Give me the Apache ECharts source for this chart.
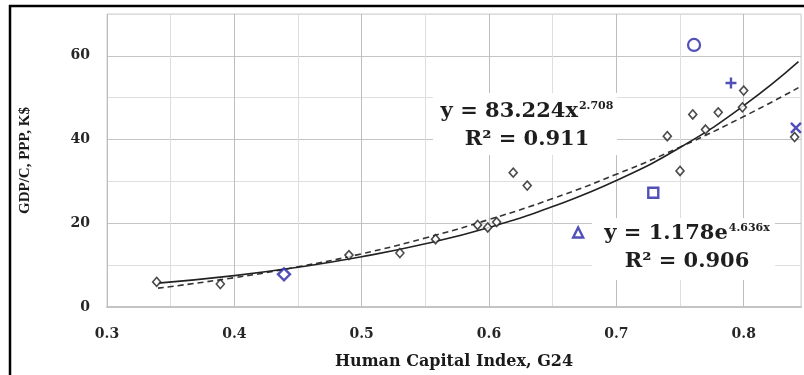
<!DOCTYPE html>
<html>
<head>
<meta charset="utf-8">
<script src="https://cdn.jsdelivr.net/npm/echarts@6/dist/echarts.min.js"></script>
<style>
html,body{margin:0;padding:0;background:#fff;}
#chart{width:804px;height:375px;}
</style>
</head>
<body>
<div id="chart"></div>
<script>
// Black hollow diamonds (country observations)
var pointX = [0.339, 0.389, 0.490, 0.530, 0.558, 0.591, 0.599, 0.606, 0.619, 0.630, 0.740, 0.750, 0.760, 0.770, 0.780, 0.799, 0.800, 0.840];
var pointY = [6.0, 5.5, 12.4, 12.9, 16.2, 19.6, 19.0, 20.3, 32.1, 29.0, 40.8, 32.5, 46.0, 42.4, 46.5, 47.7, 51.7, 40.6];

// Highlighted blue markers
var blueDiamond = [[0.439, 7.8]];
var blueCircle = [[0.761, 62.6]];
var bluePlus = [[0.790, 53.5]];
var blueCross = [[0.841, 42.8]];
var blueSquare = [[0.729, 27.3]];
var blueTriangle = [[0.670, 17.8]];

// Trend lines
var trendX = [0.34, 0.40, 0.45, 0.50, 0.55, 0.60, 0.65, 0.70, 0.75, 0.80, 0.843];
var expTrendY = [5.7, 7.5, 9.5, 12.0, 15.1, 19.0, 24.0, 30.2, 38.1, 48.1, 58.6];
var powTrendY = [4.5, 7.0, 9.6, 12.7, 16.5, 20.9, 25.9, 31.7, 38.2, 45.5, 52.4];

var xTickLabels = ['0.3', '0.4', '0.5', '0.6', '0.7', '0.8'];
var yTickLabels = ['0', '20', '40', '60'];

function zip(xs, ys) { return xs.map(function (x, i) { return [x, ys[i]]; }); }

var SERIF = '"DejaVu Serif", "Liberation Serif", serif';
var BLUE = '#2424a6';

var chart = echarts.init(document.getElementById('chart'), null, {renderer: 'canvas'});

var option = {
  animation: false,
  backgroundColor: '#fff',
  grid: {left: 107, top: 14, right: 3, bottom: 67, show: true, borderColor: '#cfcfcf', borderWidth: 1},
  xAxis: {
    type: 'value', min: 0.3, max: 0.845, interval: 0.05,
    name: 'Human Capital Index, G24', nameLocation: 'middle', nameGap: 47,
    nameTextStyle: {fontFamily: SERIF, fontWeight: 'bold', fontSize: 16, color: '#1a1a1a'},
    axisLine: {show: true, lineStyle: {color: '#c4c4c4', width: 2}},
    axisTick: {show: false},
    splitLine: {show: true, lineStyle: {color: ['#bdbdbd', '#dedede'], width: 1}},
    axisLabel: {
      margin: 20, fontFamily: SERIF, fontWeight: 'bold', fontSize: 14, color: '#262626',
      formatter: function (v) {
        var s = (Math.round(v * 100) / 100).toString();
        return xTickLabels.indexOf(s) >= 0 ? s : '';
      }
    }
  },
  yAxis: {
    type: 'value', min: 0, max: 70, interval: 10,
    name: 'GDP/C, PPP, K$', nameLocation: 'middle', nameGap: 74,
    nameTextStyle: {fontFamily: '"Liberation Serif", serif', fontWeight: 'bold', fontSize: 15, color: '#1a1a1a'},
    axisLine: {show: false},
    axisTick: {show: false},
    splitLine: {show: true, lineStyle: {color: ['#c4c4c4', '#dedede'], width: 1}},
    axisLabel: {
      margin: 17, fontFamily: SERIF, fontWeight: 'bold', fontSize: 14, color: '#262626',
      formatter: function (v) {
        var s = String(Math.round(v));
        return yTickLabels.indexOf(s) >= 0 ? s : '';
      }
    }
  },
  series: [
    {
      type: 'line', data: zip(trendX, powTrendY), smooth: true, symbol: 'none', z: 3,
      lineStyle: {color: '#333', width: 1.6, type: [6, 4]}
    },
    {
      type: 'line', data: zip(trendX, expTrendY), smooth: true, symbol: 'none', z: 3,
      lineStyle: {color: '#222', width: 1.6, type: 'solid'}
    },
    {
      type: 'scatter', data: zip(pointX, pointY), symbol: 'diamond', symbolSize: [8, 9], z: 4,
      itemStyle: {color: '#fff', borderColor: '#1e1e1e', borderWidth: 1.6}
    },
    {
      type: 'scatter', data: blueDiamond, symbol: 'diamond', symbolSize: [12, 12], z: 5,
      itemStyle: {color: '#fff', borderColor: BLUE, borderWidth: 2.4}
    },
    {
      type: 'scatter', data: blueCircle, symbol: 'circle', symbolSize: 12, z: 5,
      itemStyle: {color: '#fff', borderColor: BLUE, borderWidth: 2.2}
    },
    {
      type: 'scatter', data: bluePlus, symbol: 'path://M5,0L5,10M0,5L10,5', symbolSize: 11, z: 5,
      itemStyle: {color: 'rgba(0,0,0,0)', borderColor: BLUE, borderWidth: 2.4}
    },
    {
      type: 'scatter', data: blueCross, symbol: 'path://M0,0L10,10M10,0L0,10', symbolSize: 10, z: 5,
      itemStyle: {color: 'rgba(0,0,0,0)', borderColor: BLUE, borderWidth: 2.4}
    },
    {
      type: 'scatter', data: blueSquare, symbol: 'rect', symbolSize: 10, z: 5,
      itemStyle: {color: '#fff', borderColor: BLUE, borderWidth: 2.4}
    },
    {
      type: 'scatter', data: blueTriangle, symbol: 'triangle', symbolSize: 10, z: 5,
      itemStyle: {color: '#fff', borderColor: BLUE, borderWidth: 2.4}
    }
  ],
  graphic: [
    {
      type: 'rect', z: 1, silent: true,
      shape: {x: 433, y: 93, width: 184, height: 62},
      style: {fill: '#fff'}
    },
    {
      type: 'text', z: 2, silent: true, x: 527, y: 98,
      style: {
        text: '{a|y = 83.224x}{s|2.708}\n{a|R² = 0.911}',
        align: 'center', verticalAlign: 'top',
        rich: {
          a: {fontFamily: SERIF, fontWeight: 'bold', fontSize: 21, lineHeight: 28, fill: '#1e1e1e'},
          s: {fontFamily: SERIF, fontWeight: 'bold', fontSize: 11, lineHeight: 28, verticalAlign: 'top', padding: [3, 0, 0, 1], fill: '#1e1e1e'}
        }
      }
    },
    {
      type: 'rect', z: 1, silent: true,
      shape: {x: 592, y: 218, width: 183, height: 62},
      style: {fill: '#fff'}
    },
    {
      type: 'text', z: 2, silent: true, x: 687, y: 220,
      style: {
        text: '{a|y = 1.178e}{s|4.636x}\n{a|R² = 0.906}',
        align: 'center', verticalAlign: 'top',
        rich: {
          a: {fontFamily: SERIF, fontWeight: 'bold', fontSize: 21, lineHeight: 28, fill: '#1e1e1e'},
          s: {fontFamily: SERIF, fontWeight: 'bold', fontSize: 11, lineHeight: 28, verticalAlign: 'top', padding: [3, 0, 0, 1], fill: '#1e1e1e'}
        }
      }
    },
    {
      type: 'rect', z: 100, silent: true,
      shape: {x: 10, y: 6, width: 1000, height: 600},
      style: {fill: 'none', stroke: '#000', lineWidth: 2.5}
    }
  ]
};
chart.setOption(option);
</script>
</body>
</html>
